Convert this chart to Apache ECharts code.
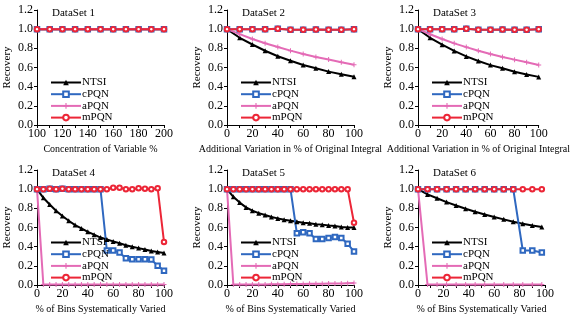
<!DOCTYPE html>
<html>
<head>
<meta charset="utf-8">
<script src="https://cdn.jsdelivr.net/npm/echarts@6/dist/echarts.min.js"></script>
<style>
  html, body { margin: 0; padding: 0; background: #fff; }
  #chart { width: 572px; height: 316px; }
</style>
</head>
<body>
<div id="chart"></div>
<script>
// x positions
const xConc = [100, 110, 120, 130, 140, 150, 160, 170, 180, 190, 200];
const x10 = [0, 10, 20, 30, 40, 50, 60, 70, 80, 90, 100];
const x5 = [0, 5, 10, 15, 20, 25, 30, 35, 40, 45, 50, 55, 60, 65, 70, 75, 80, 85, 90, 95, 100];
const x75 = [0, 7.5, 15, 22.5, 30, 37.5, 45, 52.5, 60, 67.5, 75, 82.5, 90, 97.5];

const yTicks = [0, 0.2, 0.4, 0.6, 0.8, 1.0, 1.2];
const methodNames = ['NTSI', 'cPQN', 'aPQN', 'mPQN'];
const panelTitles = ['DataSet 1', 'DataSet 2', 'DataSet 3', 'DataSet 4', 'DataSet 5', 'DataSet 6'];
const xNames = [
  'Concentration of Variable %',
  'Additional Variation in % of Original Integral',
  'Additional Variation in % of Original Integral',
  '% of Bins Systematically Varied',
  '% of Bins Systematically Varied',
  '% of Bins Systematically Varied'
];

// DataSet 1
const ds1Ntsi = [1, 1, 1, 1, 1, 1, 1, 1, 1, 1, 1];
const ds1Cpqn = [1, 1, 1, 1, 1, 1, 1, 1, 1, 1, 1];
const ds1Apqn = [1, 1, 1, 1, 1, 1, 1, 1, 1, 1, 1];
const ds1Mpqn = [1, 1, 1, 1, 1, 1, 1, 1, 1, 1, 1];

// DataSet 2
const ds2Ntsi = [1.0, 0.91, 0.84, 0.775, 0.717, 0.67, 0.626, 0.593, 0.557, 0.53, 0.503];
const ds2Cpqn = [1.0, 1.0, 1.0, 1.0, 1.005, 0.995, 0.995, 0.997, 0.995, 0.995, 1.0];
const ds2Apqn = [1.0, 0.948, 0.898, 0.853, 0.814, 0.776, 0.741, 0.71, 0.683, 0.655, 0.628];
const ds2Mpqn = [1.0, 1.0, 1.0, 1.0, 1.005, 0.995, 0.995, 0.997, 0.995, 0.995, 1.0];

// DataSet 3
const ds3Ntsi = [1.0, 0.91, 0.838, 0.773, 0.716, 0.668, 0.625, 0.592, 0.556, 0.528, 0.502];
const ds3Cpqn = [1.0, 1.0, 1.0, 1.0, 1.005, 0.995, 0.995, 0.997, 0.995, 0.995, 1.0];
const ds3Apqn = [1.0, 0.947, 0.897, 0.852, 0.813, 0.775, 0.74, 0.709, 0.682, 0.654, 0.627];
const ds3Mpqn = [1.0, 1.0, 1.0, 1.0, 1.005, 0.995, 0.995, 0.997, 0.995, 0.995, 1.0];

// DataSet 4
const ds4Ntsi = [1.0, 0.91, 0.84, 0.775, 0.72, 0.67, 0.625, 0.59, 0.555, 0.525, 0.495, 0.475, 0.455, 0.435, 0.415, 0.4, 0.385, 0.37, 0.355, 0.345, 0.335];
const ds4Cpqn = [1.0, 1.0, 1.005, 1.0, 1.005, 1.0, 1.0, 1.0, 1.0, 1.0, 1.0, 0.36, 0.36, 0.34, 0.28, 0.27, 0.27, 0.27, 0.265, 0.2, 0.15];
const ds4Apqn = [1.0, 0.005, 0.005, 0.005, 0.005, 0.005, 0.005, 0.005, 0.005, 0.005, 0.005, 0.005, 0.005, 0.005, 0.005, 0.005, 0.005, 0.005, 0.005, 0.005, 0.005];
const ds4Mpqn = [1.0, 1.0, 1.005, 1.0, 1.005, 1.0, 1.0, 1.0, 1.0, 1.0, 1.0, 1.0, 1.015, 1.015, 1.0, 1.0, 1.01, 1.005, 1.0, 1.01, 0.45];

// DataSet 5
const ds5Ntsi = [1.0, 0.92, 0.86, 0.81, 0.775, 0.75, 0.73, 0.71, 0.695, 0.68, 0.67, 0.66, 0.65, 0.645, 0.635, 0.63, 0.62, 0.615, 0.605, 0.6, 0.6];
const ds5Cpqn = [1.0, 1.0, 1.0, 1.0, 1.0, 1.0, 1.0, 1.0, 1.0, 1.0, 1.0, 0.54, 0.55, 0.54, 0.48, 0.48, 0.49, 0.5, 0.49, 0.43, 0.35];
const ds5Apqn = [1.0, 0.005, 0.005, 0.005, 0.005, 0.005, 0.005, 0.008, 0.008, 0.008, 0.01, 0.01, 0.01, 0.012, 0.012, 0.012, 0.015, 0.015, 0.015, 0.018, 0.02];
const ds5Mpqn = [1.0, 1.0, 1.0, 1.0, 1.0, 1.0, 1.0, 1.0, 1.0, 1.0, 1.0, 1.0, 1.0, 1.0, 1.0, 1.0, 1.0, 1.0, 1.0, 1.0, 0.65];

// DataSet 6
const ds6Ntsi = [1.0, 0.945, 0.905, 0.865, 0.83, 0.795, 0.765, 0.735, 0.71, 0.685, 0.66, 0.64, 0.62, 0.605];
const ds6Cpqn = [1.0, 1.0, 1.0, 1.0, 1.0, 1.0, 1.0, 1.0, 1.0, 1.0, 1.0, 0.36, 0.36, 0.34];
const ds6Apqn = [1.0, 0.005, 0.005, 0.005, 0.005, 0.005, 0.005, 0.005, 0.005, 0.005, 0.005, 0.005, 0.005, 0.005];
const ds6Mpqn = [1.0, 1.0, 1.0, 1.0, 1.0, 1.0, 1.0, 1.0, 1.0, 1.0, 1.0, 1.0, 1.0, 1.0];

const panelX = [xConc, x10, x10, x5, x5, x75];
const panelValues = [
  [ds1Ntsi, ds1Cpqn, ds1Apqn, ds1Mpqn],
  [ds2Ntsi, ds2Cpqn, ds2Apqn, ds2Mpqn],
  [ds3Ntsi, ds3Cpqn, ds3Apqn, ds3Mpqn],
  [ds4Ntsi, ds4Cpqn, ds4Apqn, ds4Mpqn],
  [ds5Ntsi, ds5Cpqn, ds5Apqn, ds5Mpqn],
  [ds6Ntsi, ds6Cpqn, ds6Apqn, ds6Mpqn]
];

const FONT = '"Liberation Serif", "Times New Roman", serif';
const colors = ['#000000', '#2F68C0', '#E46BB6', '#EC2637'];
const symbols = ['triangle', 'emptyRect', 'path://M2,0H3V2H5V3H3V5H2V3H0V2H2Z', 'emptyCircle'];
const symbolSizes = [5, 4.5, 5, 4.5];

const gridLefts = [37, 227, 418];
const gridWidth = 127;
const rowTops = [10, 170];
const gridHeight = 115;

const grid = [], xAxis = [], yAxis = [], series = [], title = [], legend = [];

for (let p = 0; p < 6; p++) {
  const left = gridLefts[p % 3];
  const top = rowTops[Math.floor(p / 3)];
  grid.push({ left: left, top: top, width: gridWidth, height: gridHeight });

  const isConc = p === 0;
  xAxis.push({
    gridIndex: p,
    type: 'value',
    min: isConc ? 100 : 0,
    max: isConc ? 200 : 100,
    interval: 20,
    name: xNames[p],
    nameLocation: 'middle',
    nameGap: 19,
    nameTextStyle: { fontFamily: FONT, fontSize: 10, color: '#000' },
    axisLine: { onZero: false, lineStyle: { color: '#000', width: 1 } },
    axisTick: { inside: false, length: 3, lineStyle: { color: '#000' } },
    minorTick: { show: true, splitNumber: 2, length: 3, lineStyle: { color: '#000' } },
    axisLabel: { fontFamily: FONT, fontSize: 12, color: '#000', margin: 3 },
    splitLine: { show: false }
  });
  yAxis.push({
    gridIndex: p,
    type: 'value',
    min: 0,
    max: 1.2,
    interval: 0.2,
    name: 'Recovery',
    nameLocation: 'middle',
    nameGap: 24,
    nameTextStyle: { fontFamily: FONT, fontSize: 11, color: '#000' },
    axisLine: { show: true, lineStyle: { color: '#000', width: 1 } },
    axisTick: { show: true, inside: false, length: 3, lineStyle: { color: '#000' } },
    axisLabel: {
      fontFamily: FONT, fontSize: 12, color: '#000', margin: 4,
      formatter: v => v.toFixed(1)
    },
    splitLine: { show: false }
  });

  title.push({
    text: panelTitles[p],
    left: left + 10,
    top: top - 7,
    textStyle: { fontFamily: FONT, fontSize: 11, fontWeight: 'normal', color: '#000' }
  });

  legend.push({
    data: methodNames,
    orient: 'vertical',
    left: left + 8,
    top: top + 62,
    itemWidth: 30,
    itemHeight: 7,
    itemGap: 0.7,
    selectedMode: false,
    textStyle: { fontFamily: FONT, fontSize: 11, color: '#000', padding: [0, 0, 0, -4], lineHeight: 11 }
  });

  const xs = panelX[p];
  panelValues[p].forEach((vals, m) => {
    series.push({
      name: methodNames[m],
      type: 'line',
      xAxisIndex: p,
      yAxisIndex: p,
      data: xs.map((x, i) => [x, vals[i]]),
      symbol: symbols[m],
      symbolSize: symbolSizes[m],
      showAllSymbol: true,
      color: colors[m],
      lineStyle: { color: colors[m], width: 2 },
      itemStyle: { color: colors[m] },
      animation: false
    });
  });
}

const myChart = echarts.init(document.getElementById('chart'));
myChart.setOption({
  backgroundColor: '#fff',
  animation: false,
  title: title,
  legend: legend,
  grid: grid,
  xAxis: xAxis,
  yAxis: yAxis,
  series: series
});
</script>
</body>
</html>
